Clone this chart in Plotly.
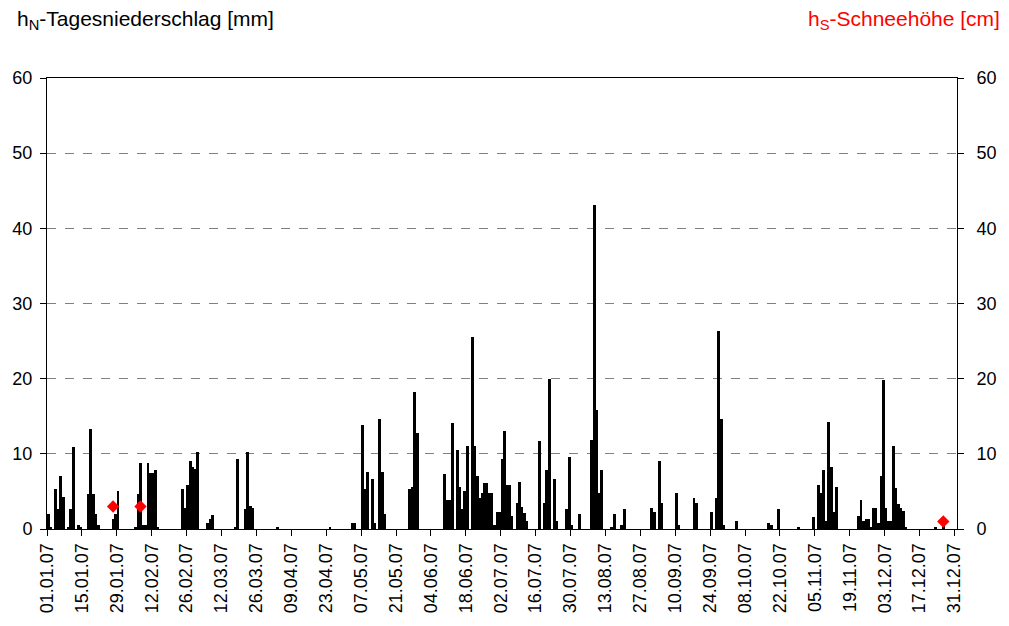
import plotly.graph_objects as go

# Daily precipitation 2007 (day index from 01.01.07, value in mm)
rain_days = [0, 1, 3, 4, 5, 6, 8, 9, 10, 12, 13,
             16, 17, 18, 19, 20,
             26, 27, 28,
             35, 36, 37, 38, 39, 40, 41, 42, 43, 44,
             54, 55, 56, 57, 58, 59, 60,
             64, 65, 66,
             75, 76, 79, 80, 81, 82,
             92, 113,
             122, 123, 126, 127, 128, 130, 131, 133, 134, 135,
             145, 146, 147, 148,
             159, 160, 161, 162, 164, 165, 166, 167, 168, 170, 171, 172, 173, 174, 175, 176, 177, 178,
             179, 180, 181, 182, 183, 184, 185, 186, 188, 189, 190, 191, 192,
             197, 199, 200, 201, 203, 204, 208, 209, 210, 213,
             218, 219, 220, 221, 222, 226, 227, 230, 231,
             242, 243, 245, 246, 252, 253, 259, 260,
             266, 268, 269, 270, 271, 276, 289, 290, 293, 301,
             307, 309, 310, 311, 312, 313, 314, 315, 316,
             325, 326, 327, 328, 329, 330, 331, 332, 333, 334, 335, 336, 337, 338, 339, 340, 341, 342, 343, 344,
             356, 359]
rain_mm = [2.0, 0.3, 5.3, 2.6, 7.0, 4.3, 0.3, 2.6, 10.9, 0.5, 0.3,
           4.6, 13.3, 4.6, 2.0, 0.5,
           1.3, 2.0, 5.0,
           0.3, 4.6, 8.8, 0.5, 0.5, 8.8, 7.4, 7.4, 7.8, 0.3,
           5.3, 2.8, 5.8, 9.1, 8.3, 8.0, 10.3,
           0.8, 1.3, 1.8,
           0.3, 9.3, 2.6, 10.3, 3.0, 2.8,
           0.3, 0.3,
           0.8, 0.8, 13.8, 5.3, 7.6, 6.6, 0.8, 14.6, 7.6, 2.0,
           5.3, 5.6, 18.2, 12.8,
           7.3, 3.9, 3.9, 14.1, 10.5, 5.6, 2.6, 5.0, 11.1, 25.5, 11.1, 7.0, 4.1, 4.8, 6.1, 6.1, 4.8, 4.8,
           0.5, 2.3, 2.3, 9.3, 13.1, 5.8, 5.8, 1.7, 3.5, 6.3, 2.9, 2.1, 1.1,
           11.7, 3.4, 7.8, 19.9, 6.6, 1.1, 2.6, 9.6, 0.5, 2.0,
           11.8, 43.1, 15.8, 4.8, 7.8, 0.3, 2.0, 0.5, 2.6,
           2.8, 2.3, 9.1, 3.5, 4.8, 0.5, 4.1, 3.4,
           2.3, 4.1, 26.3, 14.6, 0.5, 1.0, 0.8, 0.5, 2.6, 0.3,
           1.6, 5.8, 4.8, 7.8, 1.0, 14.3, 8.3, 2.3, 5.6,
           1.7, 3.8, 1.0, 1.3, 1.3, 0.3, 2.8, 2.8, 0.8, 7.0, 19.8, 2.8, 1.0, 1.0, 11.1, 5.5, 3.3, 2.8, 2.4, 0.3,
           0.3, 1.0]

# Snow depth (cm)
snow_days = [26, 37, 359]
snow_cm = [3.0, 3.0, 1.0]

tick_days = [0, 14, 28, 42, 56, 70, 84, 98, 112, 126, 140, 154, 168, 182,
             196, 210, 224, 238, 252, 266, 280, 294, 308, 322, 336, 350, 364]
tick_labels = ["01.01.07", "15.01.07", "29.01.07", "12.02.07", "26.02.07", "12.03.07",
               "26.03.07", "09.04.07", "23.04.07", "07.05.07", "21.05.07", "04.06.07",
               "18.06.07", "02.07.07", "16.07.07", "30.07.07", "13.08.07", "27.08.07",
               "10.09.07", "24.09.07", "08.10.07", "22.10.07", "05.11.07", "19.11.07",
               "03.12.07", "17.12.07", "31.12.07"]

FONT = "Liberation Sans, Arial, sans-serif"
L, R, T, B = 45, 963, 78, 529

fig = go.Figure()
fig.add_trace(go.Bar(
    x=[d + 0.5 for d in rain_days], y=rain_mm, width=1.15,
    marker=dict(color="black", line=dict(width=0)), showlegend=False))
fig.add_trace(go.Scatter(
    x=[d + 0.5 for d in snow_days], y=snow_cm, mode="markers", yaxis="y2",
    marker=dict(symbol="diamond", size=9.5, color="#ff0000", line=dict(width=0)),
    showlegend=False))

fig.update_layout(
    width=1009, height=626,
    margin=dict(l=L, r=1009 - R, t=T, b=626 - B),
    paper_bgcolor="white", plot_bgcolor="white",
    font=dict(family=FONT, size=18, color="black"),
    bargap=0,
    xaxis=dict(range=[0, 365], tickmode="array", tickvals=tick_days, ticktext=tick_labels,
               tickangle=-90, ticks="outside", ticklen=6, tickcolor="black", tickwidth=1,
               showline=True, linecolor="black", linewidth=1, mirror=True,
               showgrid=False, zeroline=False, tickfont=dict(size=18)),
    yaxis=dict(range=[0, 60], dtick=10, ticks="outside", ticklen=6, tickcolor="black",
               showline=True, linecolor="black", linewidth=1, ticklabelstandoff=4,
               showgrid=True, gridcolor="#808080", griddash="dash", gridwidth=1,
               zeroline=False, tickfont=dict(size=18)),
    yaxis2=dict(range=[0, 60], dtick=10, overlaying="y", side="right", ticks="outside",
                ticklen=6, tickcolor="black", showline=True, linecolor="black", linewidth=1,
                ticklabelstandoff=9,
                showgrid=False, zeroline=False, tickfont=dict(size=18)),
    annotations=[
        dict(text="h<sub>N</sub>-Tagesniederschlag [mm]", xref="paper", yref="paper",
             x=(13 - L) / (R - L), y=(B - 20) / (B - T), xanchor="left", yanchor="middle",
             showarrow=False, font=dict(size=21, color="black")),
        dict(text="h<sub>S</sub>-Schneehöhe [cm]", xref="paper", yref="paper",
             x=(1008 - L) / (R - L), y=(B - 20) / (B - T), xanchor="right", yanchor="middle",
             showarrow=False, font=dict(size=21, color="#ff0000")),
    ],
)

fig.write_html("out.html")
